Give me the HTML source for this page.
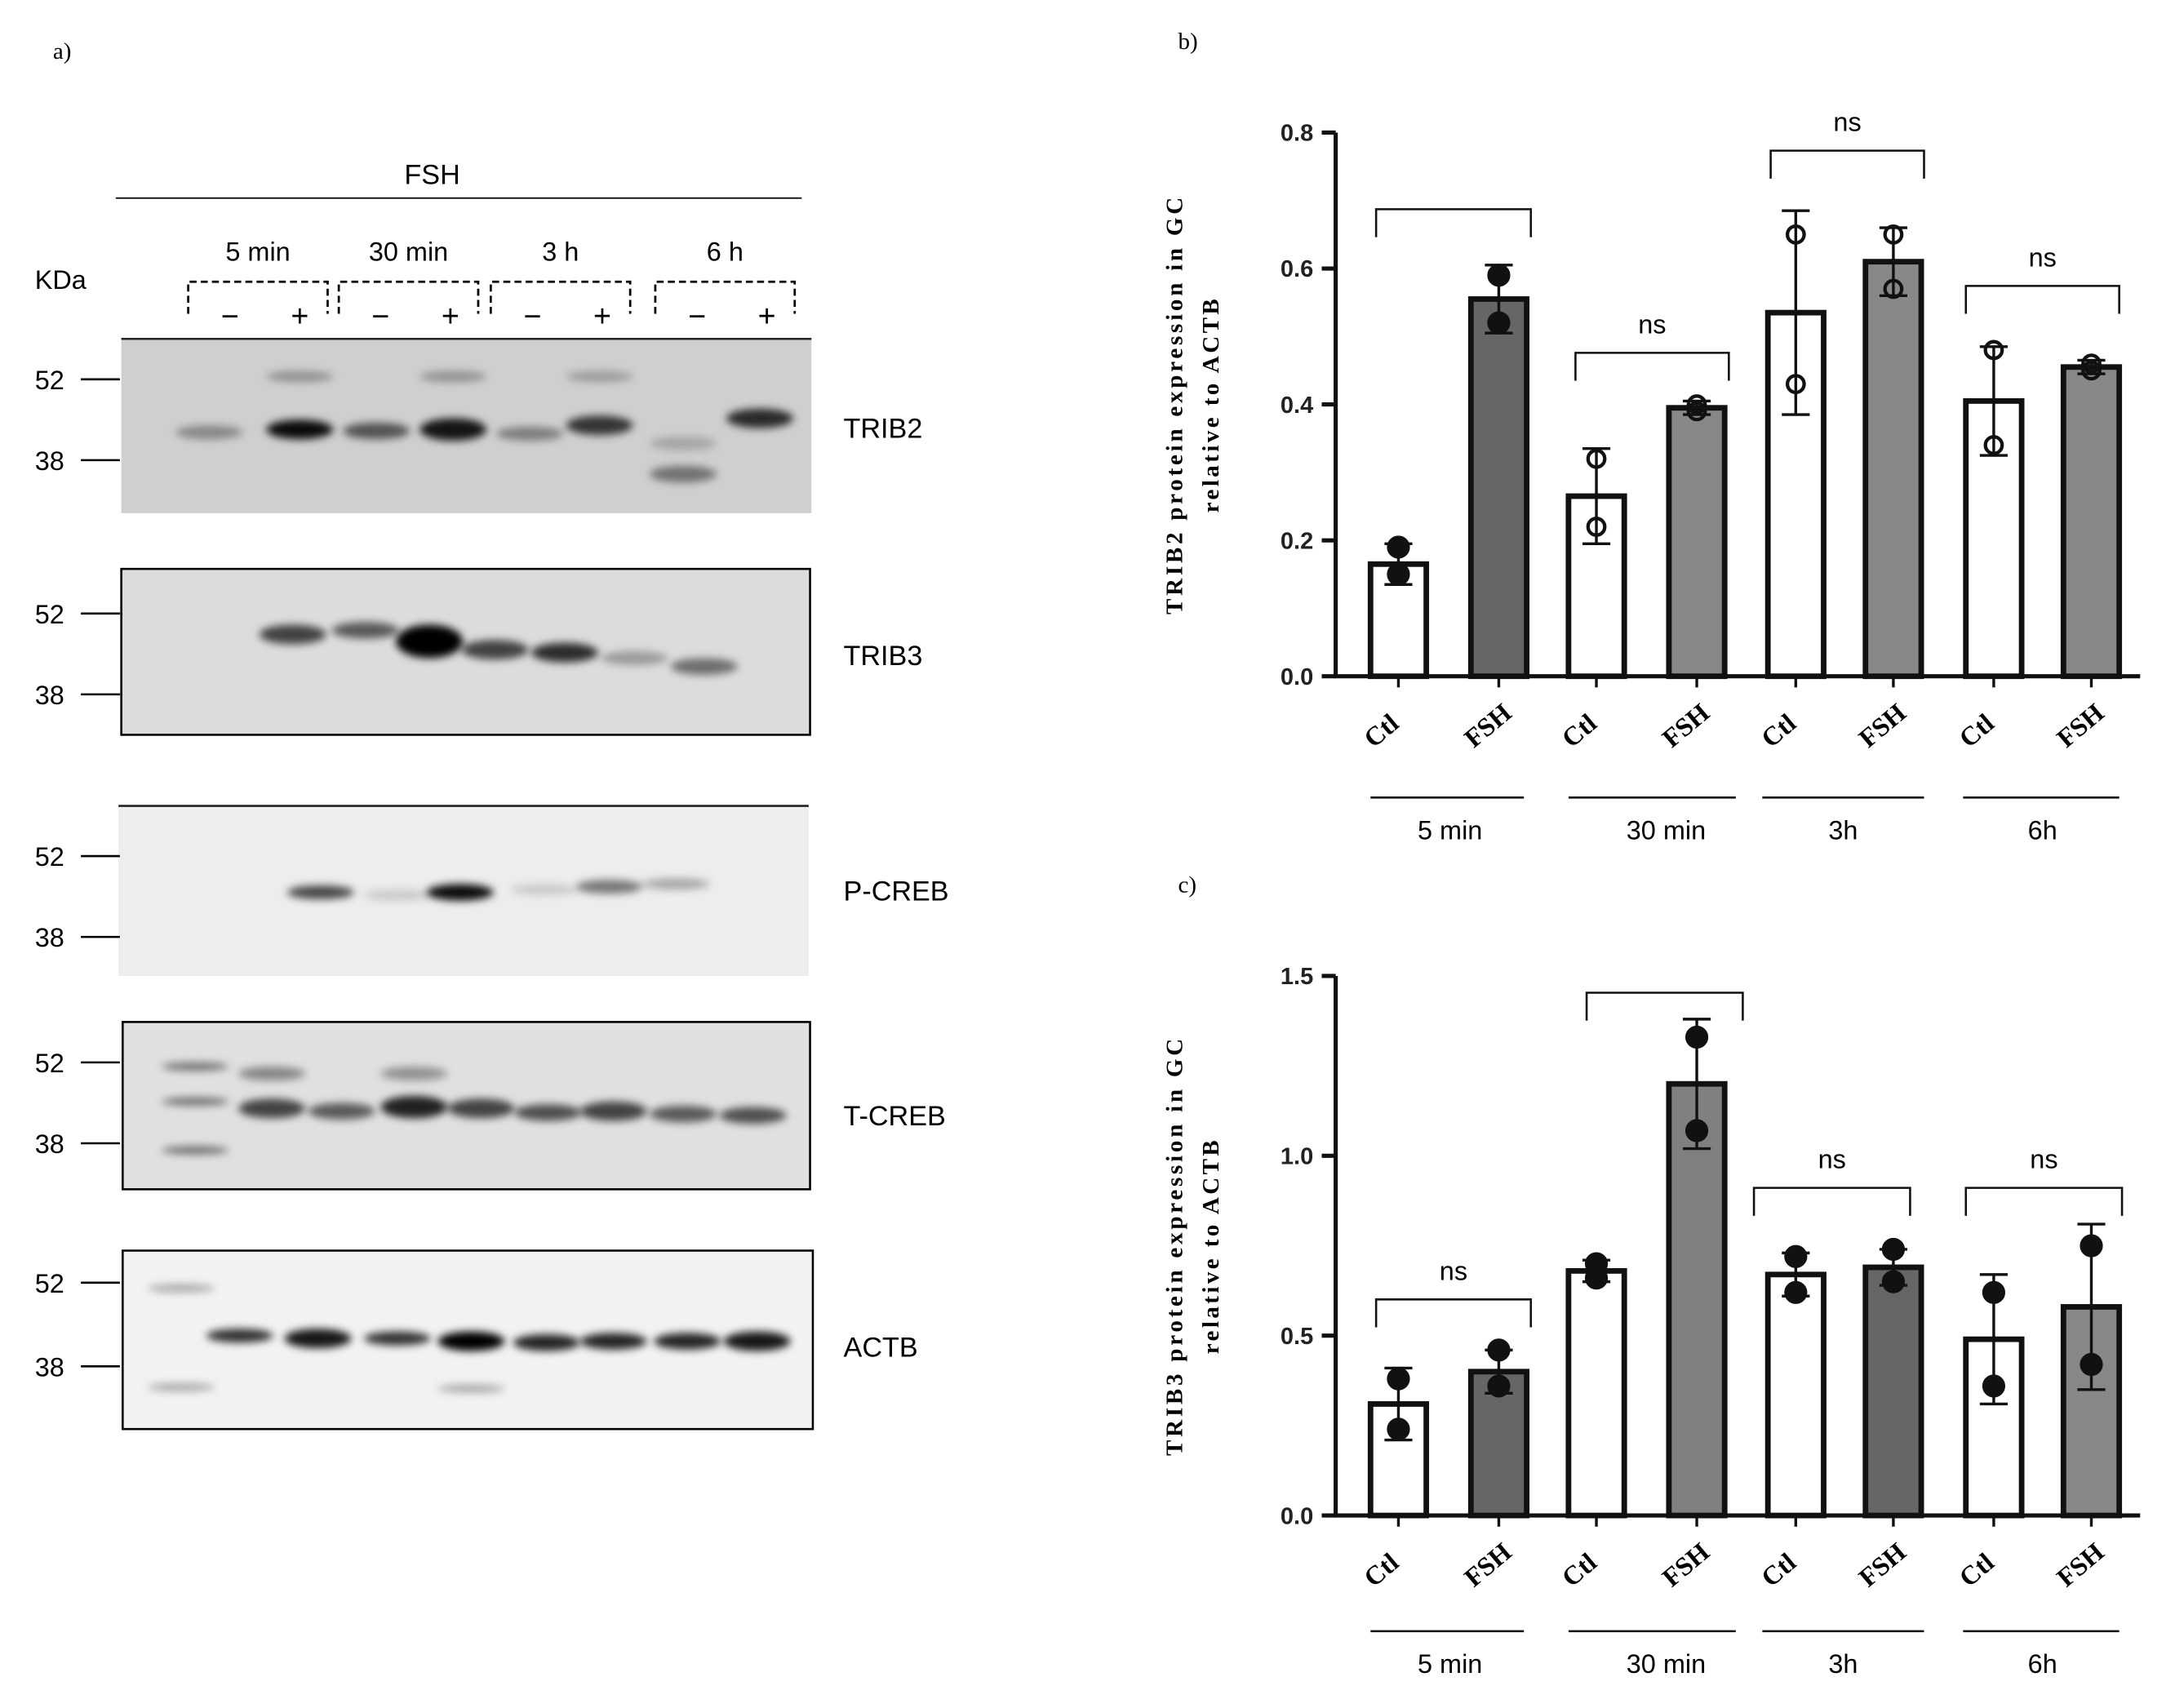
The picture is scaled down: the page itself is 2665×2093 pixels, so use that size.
<!DOCTYPE html>
<html><head><meta charset="utf-8"><style>
html,body{margin:0;padding:0;background:#fff}
svg{display:block}
text{font-family:"Liberation Sans",sans-serif}
.ser{font-family:"Liberation Serif",serif}
</style></head><body>
<svg id="fig" width="2665" height="2093" viewBox="0 0 1560 1225" xmlns="http://www.w3.org/2000/svg">
<defs>
<filter id="bl" x="-50%" y="-100%" width="200%" height="300%"><feGaussianBlur stdDeviation="3"/></filter>
</defs>
<g id="panelA">
<text x="38" y="42" class="ser" font-size="17">a)</text>
<text x="310" y="132" font-size="20" text-anchor="middle">FSH</text>
<line x1="83" y1="142" x2="575" y2="142" stroke="#000" stroke-width="1"/>
<text x="25" y="207" font-size="19">KDa</text>
</g>
<g id="blots"></g>
<g id="chartB"></g>
<g id="chartC"></g>
</svg>
<script>
const NS="http://www.w3.org/2000/svg";
function mk(p,tag,at,txt){const e=document.createElementNS(NS,tag);for(const k in at)e.setAttribute(k,at[k]);if(txt!==undefined)e.textContent=txt;p.appendChild(e);return e;}
const A=document.getElementById('panelA');
const times=["5 min","30 min","3 h","6 h"];
const tx=[[135,235],[243,343],[352,452],[470,570]];
times.forEach((t,i)=>{
 const [a,b]=tx[i];
 let e=mk(A,'text',{x:(a+b)/2,y:187,'font-size':19,'text-anchor':'middle'},t);
 
 
 e=mk(A,'path',{d:`M${a} 225 V202 H${b} V225`,fill:'none',stroke:'#000','stroke-width':1.6,'stroke-dasharray':'5,3'});
 
 
 e=mk(A,'text',{x:a+30,y:234,'font-size':22,'text-anchor':'middle'},'−');
 
 
 e=mk(A,'text',{x:b-20,y:234,'font-size':22,'text-anchor':'middle'},'+');
 
 
});
const B=document.getElementById('blots');
const blots=[
 {n:'TRIB2',x:87,y:243,w:495,h:125,bg:'#cfcfcf',border:false,k52:272,k38:330,
  bands:[[150,310,0.35,5],[215,308,0.95,7],[270,309,0.6,6],[325,308,0.9,8],[380,311,0.4,5],[430,305,0.75,7],[490,318,0.2,5],[545,300,0.8,7],[490,340,0.45,6],[215,270,0.3,4],[325,270,0.3,4],[430,270,0.25,4]]},
 {n:'TRIB3',x:87,y:408,w:494,h:119,bg:'#dcdcdc',border:true,k52:440,k38:498,
  bands:[[210,455,0.7,7],[262,452,0.6,6],[308,460,1,12],[355,466,0.7,7],[405,468,0.8,7],[455,472,0.3,5],[505,478,0.5,6]]},
 {n:'P-CREB',x:85,y:578,w:495,h:122,bg:'#ededed',border:false,k52:614,k38:672,
  bands:[[230,640,0.7,5],[330,640,0.95,6],[285,642,0.15,4],[437,636,0.5,5],[485,634,0.3,4],[390,638,0.15,4]]},
 {n:'T-CREB',x:88,y:733,w:493,h:120,bg:'#e0e0e0',border:true,k52:762,k38:820,
  bands:[[195,795,0.7,7],[245,797,0.6,6],[297,794,0.85,8],[345,795,0.7,7],[393,798,0.65,6],[440,797,0.7,7],[490,799,0.6,6],[540,800,0.65,6],[195,770,0.4,5],[297,770,0.35,5],[140,765,0.5,3],[140,790,0.5,3],[140,825,0.5,3]]},
 {n:'ACTB',x:88,y:897,w:495,h:128,bg:'#f2f2f2',border:true,k52:920,k38:980,
  bands:[[172,958,0.8,5],[228,960,0.9,7],[285,960,0.8,5],[338,962,1,7],[392,963,0.85,6],[440,962,0.85,6],[493,962,0.85,6],[543,962,0.9,7],[338,996,0.3,3],[130,924,0.3,3],[130,995,0.3,3]]}
];
const labY=[307,470,639,800,966];
blots.forEach((b,i)=>{
 const g=mk(B,'g',{});
 
 
 mk(g,'rect',{x:b.x,y:b.y,width:b.w,height:b.h,fill:b.bg,stroke:b.border?'#000':'none','stroke-width':1.5});
 if(!b.border)mk(g,'line',{x1:b.x,y1:b.y,x2:b.x+b.w,y2:b.y,stroke:'#222','stroke-width':1.5});
 b.bands.forEach(d=>{
  const e=mk(g,'ellipse',{cx:d[0],cy:d[1],rx:24,ry:d[3],fill:'#000','fill-opacity':d[2],filter:'url(#bl)'});
  
  
 });
 [[b.k52,'52'],[b.k38,'38']].forEach(([y,t])=>{
  mk(g,'text',{x:25,y:y+7,'font-size':19},t);
  mk(g,'line',{x1:58,y1:y,x2:86,y2:y,stroke:'#000','stroke-width':1.5});
 });
 const e=mk(B,'text',{x:605,y:labY[i]+7,'font-size':20},b.n);
 
 
});

const categories=["Ctl","FSH","Ctl","FSH","Ctl","FSH","Ctl","FSH"];
const groups=["5 min","30 min","3h","6h"];
const trib2Means=[0.165,0.555,0.265,0.395,0.535,0.61,0.405,0.455];
const trib2Err=[0.03,0.05,0.07,0.01,0.15,0.05,0.08,0.01];
const trib2Pts=[[0.19,0.15],[0.59,0.52],[0.32,0.22],[0.39,0.40],[0.65,0.43],[0.65,0.57],[0.48,0.34],[0.45,0.46]];
const trib2Ticks=[0,0.2,0.4,0.6,0.8];
const trib3Means=[0.31,0.40,0.68,1.20,0.67,0.69,0.49,0.58];
const trib3Err=[0.10,0.06,0.03,0.18,0.06,0.05,0.18,0.23];
const trib3Pts=[[0.38,0.24],[0.46,0.36],[0.66,0.70],[1.33,1.07],[0.72,0.62],[0.74,0.65],[0.62,0.36],[0.75,0.42]];
const trib3Ticks=[0,0.5,1.0,1.5];

const barX=[1003,1075,1145,1217,1288,1358,1430,1500];
function chart(id,cfg){
 const G=document.getElementById(id);
 const y=v=>cfg.y0-(v-cfg.min)/(cfg.max-cfg.min)*(cfg.y0-cfg.y1);
 let e=mk(G,'text',{x:845,y:cfg.y1-60,'font-size':17,class:'ser'},cfg.lab);
 
 
 const tg=mk(G,'g',{transform:`translate(848 ${(cfg.y0+cfg.y1)/2}) rotate(-90)`});
 
 
 mk(tg,'text',{x:0,y:0,'font-size':17,'text-anchor':'middle',class:'ser','font-weight':'bold','letter-spacing':'2.2'},cfg.title);
 mk(tg,'text',{x:0,y:26,'font-size':17,'text-anchor':'middle',class:'ser','font-weight':'bold','letter-spacing':'2'},'relative to ACTB');
 cfg.means.forEach((m,i)=>{
  const cx=barX[i];
  const r=mk(G,'rect',{x:cx-20,y:y(m),width:40,height:cfg.y0-y(m),fill:cfg.fills[i],stroke:'#111','stroke-width':4});
  
  
  const eb=mk(G,'path',{d:`M${cx-10} ${y(m+cfg.err[i])}H${cx+10}M${cx} ${y(m+cfg.err[i])}V${y(m-cfg.err[i])}M${cx-10} ${y(m-cfg.err[i])}H${cx+10}`,stroke:'#111','stroke-width':2,fill:'none'});
  
  
  cfg.pts[i].forEach(p=>{
   const c=mk(G,'circle',{cx:cx,cy:y(p),r:cfg.hollow&&i>1?6:7,fill:cfg.hollow&&i>1?'none':'#111',stroke:'#111','stroke-width':2.5});
   
   
  });
  const t=mk(G,'text',{transform:`translate(${cx-18} ${cfg.y0+52}) rotate(-40)`,'font-size':19,class:'ser','font-weight':'bold','text-anchor':'start'},categories[i]);
  
  
 });
 let ax=mk(G,'path',{d:`M958 ${cfg.y1}V${cfg.y0}H1535`,stroke:'#111','stroke-width':3,fill:'none'});
 
 
 cfg.ticks.forEach(t=>{
  mk(G,'line',{x1:948,x2:958,y1:y(t),y2:y(t),stroke:'#111','stroke-width':3});
  const l=mk(G,'text',{x:942,y:y(t)+6,'font-size':17,'text-anchor':'end','font-weight':'bold',fill:'#222'},t.toFixed(1));
  
  
 });
 for(let k=0;k<8;k++)mk(G,'line',{x1:barX[k],x2:barX[k],y1:cfg.y0,y2:cfg.y0+8,stroke:'#111','stroke-width':2});
 const gl=[[983,1093],[1125,1245],[1264,1380],[1408,1520]];
 const lx=[1040,1195,1322,1465];
 groups.forEach((g,i)=>{
  mk(G,'line',{x1:gl[i][0],x2:gl[i][1],y1:cfg.gy,y2:cfg.gy,stroke:'#111','stroke-width':1.5});
  const t=mk(G,'text',{x:lx[i],y:cfg.gy+30,'font-size':19,'text-anchor':'middle'},g);
  
  
 });
 cfg.br.forEach(b=>{
  const p=mk(G,'path',{d:`M${b[0]} ${b[2]+20}V${b[2]}H${b[1]}V${b[2]+20}`,stroke:'#111','stroke-width':1.5,fill:'none'});
  
  
  if(b[3]){const t=mk(G,'text',{x:(b[0]+b[1])/2,y:b[2]-14,'font-size':19,'text-anchor':'middle'},'ns');
   
   }
 });
}
chart('chartB',{lab:'b)',title:'TRIB2 protein expression in GC',min:0,max:0.8,y0:485,y1:95,means:trib2Means,err:trib2Err,pts:trib2Pts,ticks:trib2Ticks,hollow:true,gy:572,
 fills:['#fff','#666','#fff','#888','#fff','#888','#fff','#888'],
 br:[[987,1098,150,false],[1130,1240,253,true],[1270,1380,108,true],[1410,1520,205,true]]});
chart('chartC',{lab:'c)',title:'TRIB3 protein expression in GC',min:0,max:1.5,y0:1087,y1:700,means:trib3Means,err:trib3Err,pts:trib3Pts,ticks:trib3Ticks,hollow:false,gy:1170,
 fills:['#fff','#666','#fff','#808080','#fff','#666','#fff','#888'],
 br:[[987,1098,932,true],[1138,1250,712,false],[1258,1370,852,true],[1410,1522,852,true]]});
</script>
</body></html>
